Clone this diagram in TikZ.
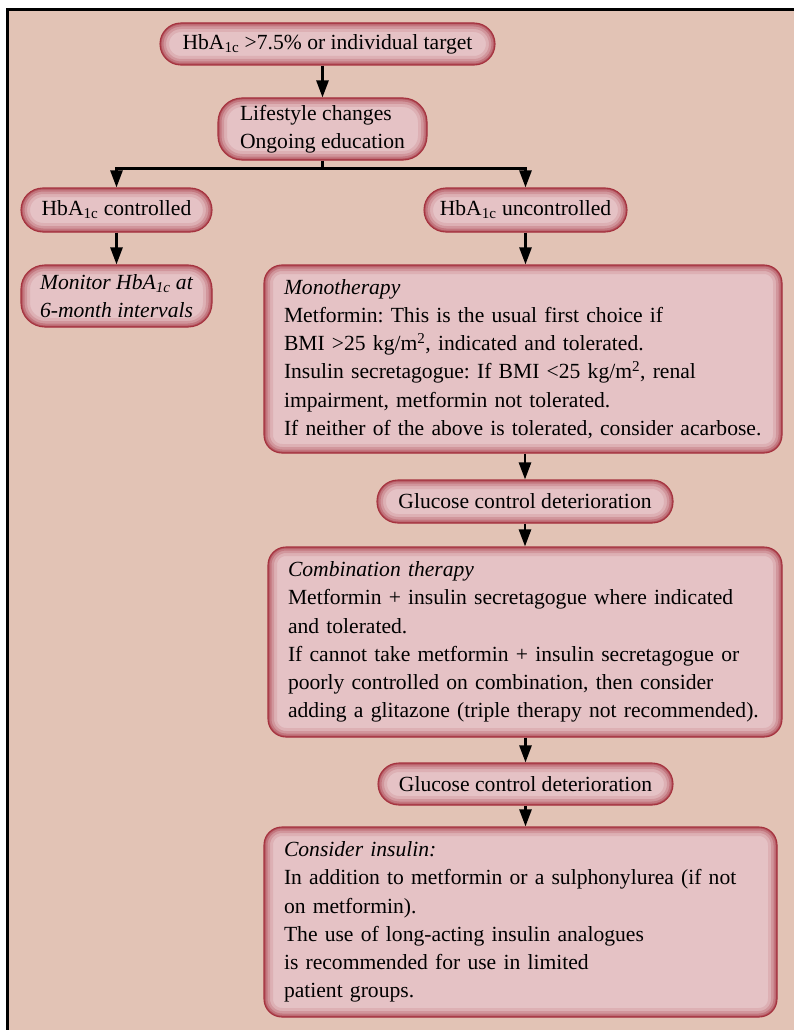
\documentclass[tikz,border=0pt]{standalone}
\usepackage{fontspec}
\setmainfont{Liberation Serif}
\usetikzlibrary{arrows.meta}
\definecolor{bg}{RGB}{226,195,181}
\definecolor{boxfill}{RGB}{229,194,197}
\definecolor{edge}{RGB}{165,50,62}
\tikzset{
  glow/.style={path picture={
    \foreach \w/\o in {18/0.12,12/0.2,7/0.3,3/0.5}{
      \draw[line width=\w pt, edge, opacity=\o, rounded corners=#1]
        (path picture bounding box.south west) rectangle (path picture bounding box.north east);
    }}},
  pill/.style={draw=edge, line width=1.1pt, fill=boxfill, rounded corners=#1, glow=#1, inner sep=0pt},
  bigbox/.style={pill=18pt, align=left, inner xsep=20pt, inner ysep=0pt},
  conn/.style={line width=2.6pt, line join=miter},
  arr/.style={conn, -{Triangle[length=17pt,width=12pt]}}
}
\frenchspacing
\begin{document}
\begin{tikzpicture}[x=1pt,y=-1pt, every node/.style={font=\fontsize{21.6}{28.3}\selectfont, text=black}]
\useasboundingbox (0,0) rectangle (794,1030);
\fill[white] (0,0) rectangle (794,1030);
\fill[bg] (7.5,9.5) rectangle (794,1030);
\draw[line width=3pt] (7.5,1030) -- (7.5,9.5) -- (794,9.5);

\node[pill=21pt, minimum width=335pt, minimum height=42pt] (top) at (327.5,44)
  {HbA\textsubscript{1c} >7.5\% or individual target};
\node[pill=24pt, align=left, minimum width=209pt, minimum height=62pt] (life) at (322.5,129)
  {Lifestyle changes\\Ongoing education};
\node[pill=22pt, minimum width=191pt, minimum height=44pt] (ctrl) at (116.5,210)
  {HbA\textsubscript{1c} controlled};
\node[pill=22pt, minimum width=203pt, minimum height=44pt] (unc) at (525.5,210)
  {HbA\textsubscript{1c} uncontrolled};
\node[pill=24pt, align=left, minimum width=191pt, minimum height=62pt, font=\fontsize{21.6}{28.3}\selectfont\itshape] (mon) at (116.5,296)
  {Monitor HbA\textsubscript{1c} at\\6-month intervals};
\node[bigbox, text width=478pt, minimum height=188pt] (mono) at (523,359)
  {\textit{Monotherapy}\\
   Metformin: This is the usual first choice if\\
   BMI >25 kg/m\textsuperscript{2}, indicated and tolerated.\\
   Insulin secretagogue: If BMI <25 kg/m\textsuperscript{2}, renal\\
   impairment, metformin not tolerated.\\
   If neither of the above is tolerated, consider acarbose.};
\node[pill=21pt, minimum width=296pt, minimum height=43pt] (gl1) at (525,501.5)
  {Glucose control deterioration};
\node[bigbox, text width=474pt, minimum height=190pt] (comb) at (525,642)
  {\textit{Combination therapy}\\
   Metformin + insulin secretagogue where indicated\\
   and tolerated.\\
   If cannot take metformin + insulin secretagogue or\\
   poorly controlled on combination, then consider\\
   adding a glitazone (triple therapy not recommended).};
\node[pill=21pt, minimum width=295pt, minimum height=42pt] (gl2) at (525.5,784)
  {Glucose control deterioration};
\node[bigbox, text width=473pt, minimum height=190pt] (ins) at (520.5,922)
  {\textit{Consider insulin:}\\
   In addition to metformin or a sulphonylurea (if not\\
   on metformin).\\
   The use of long-acting insulin analogues\\
   is recommended for use in limited\\
   patient groups.};

\draw[arr] (top.south -| life.north) -- (life.north);
\draw[conn] (life.south) -- ++(0,8) coordinate (br);
\draw[arr] (br) -| (ctrl.north);
\draw[arr] (br) -| (unc.north);
\draw[arr] (ctrl.south) -- (ctrl.south |- mon.north);
\draw[arr] (unc.south) -- (unc.south |- mono.north);
\draw[arr] (mono.south -| gl1.north) -- (gl1.north);
\draw[arr] (gl1.south) -- (gl1.south |- comb.north);
\draw[arr] (comb.south -| gl2.north) -- (gl2.north);
\draw[arr] (gl2.south) -- (gl2.south |- ins.north);
\end{tikzpicture}
\end{document}
